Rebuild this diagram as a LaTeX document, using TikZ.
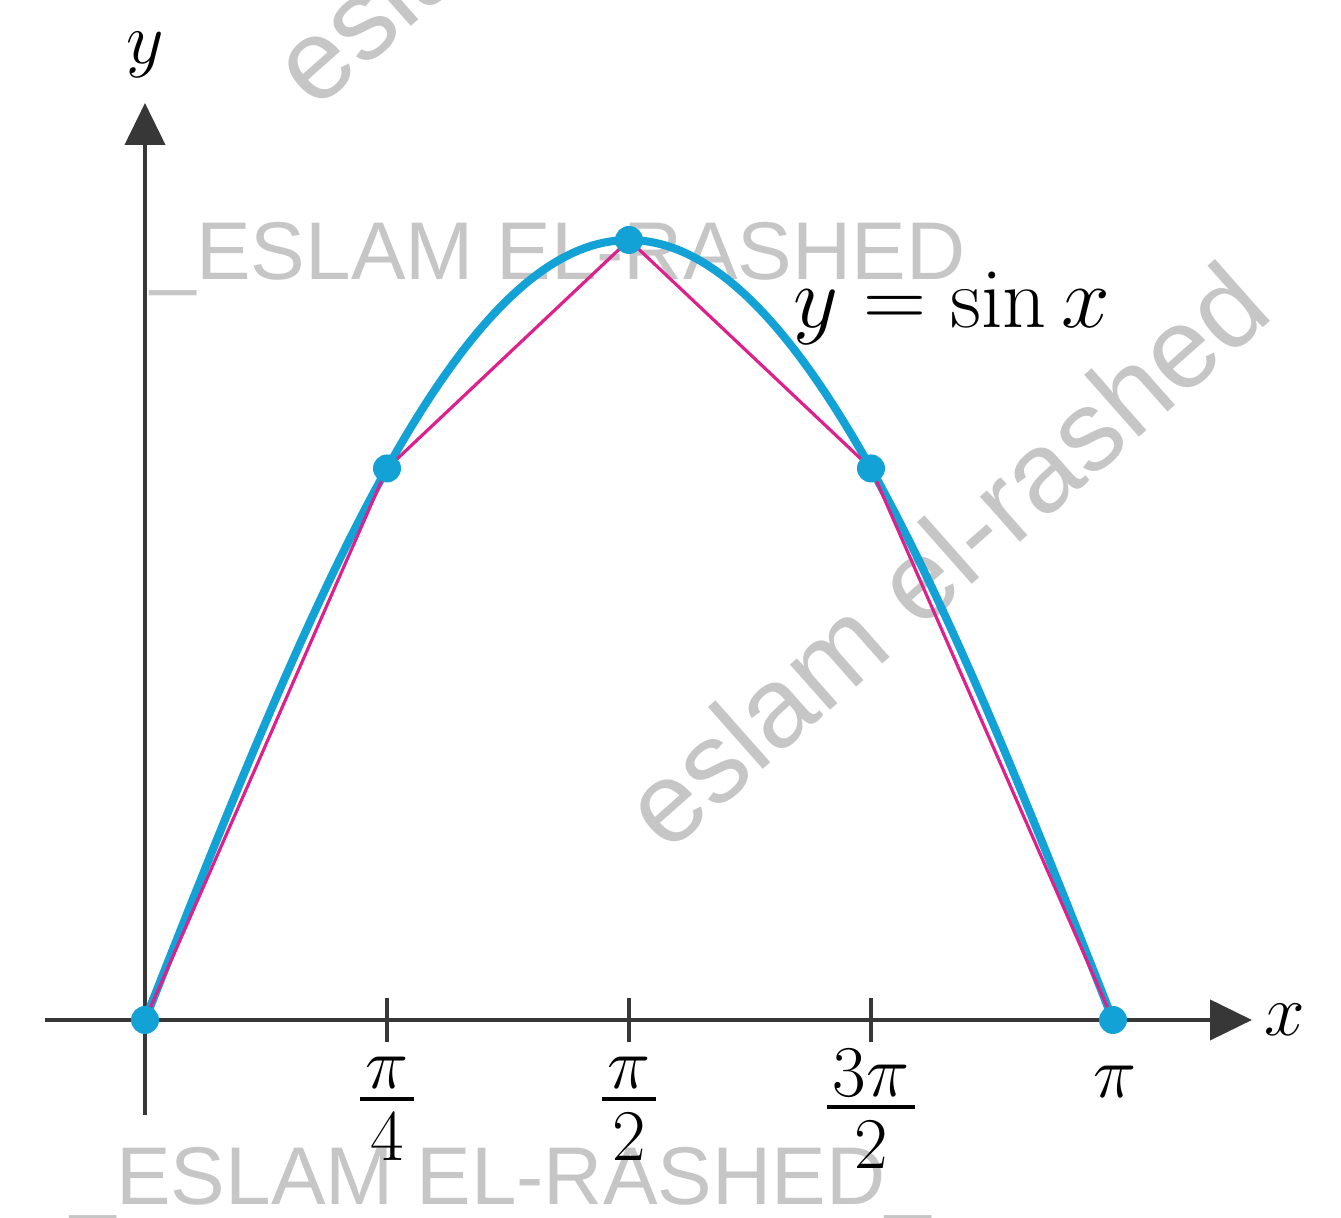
\documentclass[tikz,border=0pt]{standalone}
\usepackage{fontspec}
\usepackage{amsmath}
\newfontfamily\wmfont{Liberation Sans}
\usetikzlibrary{arrows.meta}
\definecolor{curveblue}{RGB}{18,162,214}
\definecolor{chordpink}{RGB}{222,32,140}
\definecolor{axisgray}{RGB}{55,55,55}
\definecolor{wmgray}{RGB}{198,198,198}
\newcommand{\stackfrac}[2]{\vcenter{\offinterlineskip\halign{\hfil\kern1.6pt##\kern1.6pt\hfil\cr $#1$\cr\noalign{\kern2.4pt}\noalign{\hrule height 1.1pt}\noalign{\kern3.6pt}$#2$\cr}}}
\tikzset{
  axisline/.style={draw=axisgray,line width=1.2pt,-{Triangle[length=0.42cm,width=0.40cm]}},
  tickmark/.style={draw=axisgray,line width=0.9pt},
  sinecurve/.style={draw=curveblue,line width=2.3pt},
  chordline/.style={draw=chordpink,line width=0.9pt},
  dotmark/.style={fill=curveblue},
  lbl/.style={font=\fontsize{22}{26}\selectfont,inner sep=0pt},
  eqlbl/.style={font=\fontsize{24.5}{28}\selectfont,inner sep=0pt},
  fraclbl/.style={font=\fontsize{21}{25}\selectfont,inner sep=0pt},
  wm/.style={text=wmgray,inner sep=0pt,font=\wmfont\fontsize{23.3}{28}\selectfont},
  wmrot/.style={text=wmgray,inner sep=0pt,font=\wmfont\fontsize{32.5}{38}\selectfont,rotate=41.5},
}
\begin{document}
\begin{tikzpicture}
\useasboundingbox (0,0) rectangle (13.41,12.18);
\clip (0,0) rectangle (13.41,12.18);
% watermarks
\node[wm,anchor=base west] (wmA) at (1.50,9.38) {\_ESLAM EL-RASHED};
\node[wm,anchor=base west] (wmB) at (0.70,0.13) {\_ESLAM EL-RASHED\_};
\node[wmrot,anchor=base west] (wmC) at (6.67,3.63) {eslam el-rashed};
\node[wmrot,anchor=base west] (wmD) at (3.15,11.06) {eslam el-rashed};
% axes
\coordinate (O) at (1.45,1.98);
\coordinate (xl) at (0.45,1.98);
\coordinate (xr) at (12.52,1.98);
\coordinate (yb) at (1.45,1.03);
\coordinate (yt) at (1.45,11.15);
\draw[axisline] (xl) -- (xr);
\draw[axisline] (yb) -- (yt);
\node[lbl] (xlab) at (12.85,1.98) {$x$};
\node[lbl] (ylab) at (1.45,11.63) {$y$};
% ticks
\foreach \i/\nm in {1/t1,2/t2,3/t3}{
  \coordinate (\nm) at ({1.45+2.42*\i},1.98);
  \draw[tickmark] ([yshift=0.22cm]\nm) -- ([yshift=-0.22cm]\nm);
}
\node[fraclbl] (l1) at (3.87,1.09) {$\stackfrac{\pi}{4}$};
\node[fraclbl] (l2) at (6.29,1.09) {$\stackfrac{\pi}{2}$};
\node[fraclbl] (l3) at (8.71,1.09) {$\stackfrac{3\pi}{2}$};
\node[lbl] (l4) at (11.15,1.36) {$\pi$};
% points
\coordinate (P0) at (1.45,1.98);
\coordinate (P1) at (3.87,{1.98+7.80*sin(45)});
\coordinate (P2) at (6.29,9.78);
\coordinate (P3) at (8.71,{1.98+7.80*sin(45)});
\coordinate (P4) at (11.13,1.98);
% curve
\draw[sinecurve,line cap=round] plot[domain=0:180,samples=120,smooth] ({1.45+9.68*\x/180},{1.98+7.80*sin(\x)});
% chords
\draw[chordline,line join=round] (P0) -- (P1) -- (P2) -- (P3) -- (P4);
% dots
\foreach \p in {P0,P1,P2,P3,P4}{ \fill[dotmark] (\p) circle (0.14); }
\node[eqlbl] (eq) at (9.52,9.10) {$y=\sin x$};
\end{tikzpicture}
\end{document}
